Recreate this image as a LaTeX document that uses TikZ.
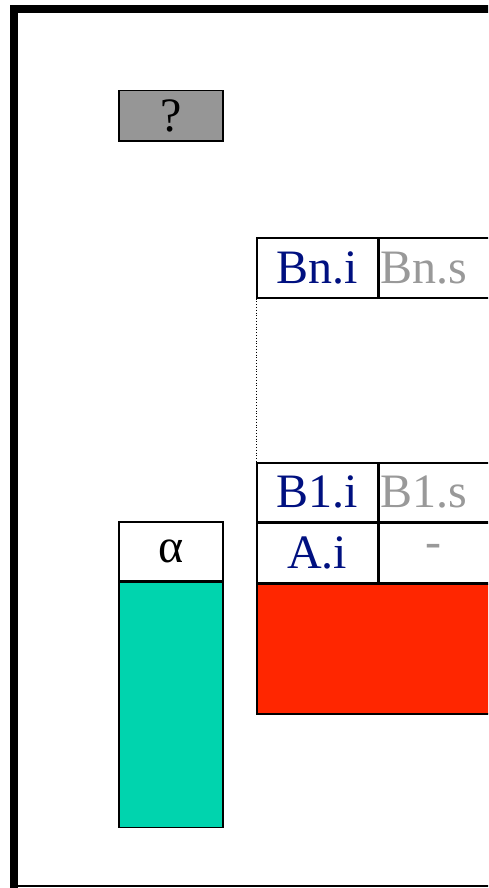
\documentclass[tikz,border=0pt]{standalone}
\usepackage{fontspec}
\setmainfont{Liberation Serif}
\usepackage{tikz}
\usetikzlibrary{positioning}

\definecolor{idnavy}{RGB}{0,16,128}
\definecolor{slotgray}{RGB}{153,153,153}
\definecolor{qgray}{RGB}{150,150,150}
\definecolor{redblock}{RGB}{255,38,0}
\definecolor{tealbar}{RGB}{0,212,174}

\begin{document}
\begin{tikzpicture}[
    x=1pt, y=-1pt,
    every node/.style={inner sep=0pt},
    cell/.style={draw, line width=1.5pt, minimum height=59pt, font=\fontsize{48}{50}\selectfont},
    id_cell/.style={cell, minimum width=121pt, text=idnavy},
    slot_cell/.style={cell, text width=133pt, inner xsep=1pt, align=left, text=slotgray}
]
    \clip (0,0) rectangle (488,888);
    % outer frame
    \draw[line width=8pt] (14,892) -- (14,9) -- (492,9);
    \draw[line width=1.5pt] (14,886) -- (492,886);

    \node[cell, fill=qgray, minimum width=104pt, minimum height=50pt, anchor=north west] (q_box) at (118,90) {?};

    % top frame row
    \node[id_cell, minimum height=60pt, anchor=north west] (bn_i) at (256,237) {Bn.i};
    \node[slot_cell, minimum height=60pt, anchor=north west] (bn_s) at (bn_i.north east) {Bn.s};

    % bottom frame rows
    \node[id_cell, anchor=north west] (b1_i) at (256,462) {B1.i};
    \node[slot_cell, anchor=north west] (b1_s) at (b1_i.north east) {B1.s};
    \node[id_cell, below=0pt of b1_i] (a_i) {A.i};
    \node[slot_cell, below=0pt of b1_s] (a_s) {};
    \node[anchor=base, text=slotgray, font=\fontsize{48}{50}\selectfont] (a_s_dash) at (433,557) {-};
    \node[cell, fill=redblock, minimum width=260pt, minimum height=130pt, anchor=north west] (red_block) at (a_i.south west) {};

    \draw[dotted, line width=0.8pt] (bn_i.south west) -- (b1_i.north west);

    % alpha column
    \node[cell, minimum width=104pt, anchor=north west] (alpha_box) at (118,521) {α};
    \node[cell, fill=tealbar, minimum width=104pt, minimum height=245pt, anchor=north] (alpha_bar) at (alpha_box.south) {};

\end{tikzpicture}
\end{document}
